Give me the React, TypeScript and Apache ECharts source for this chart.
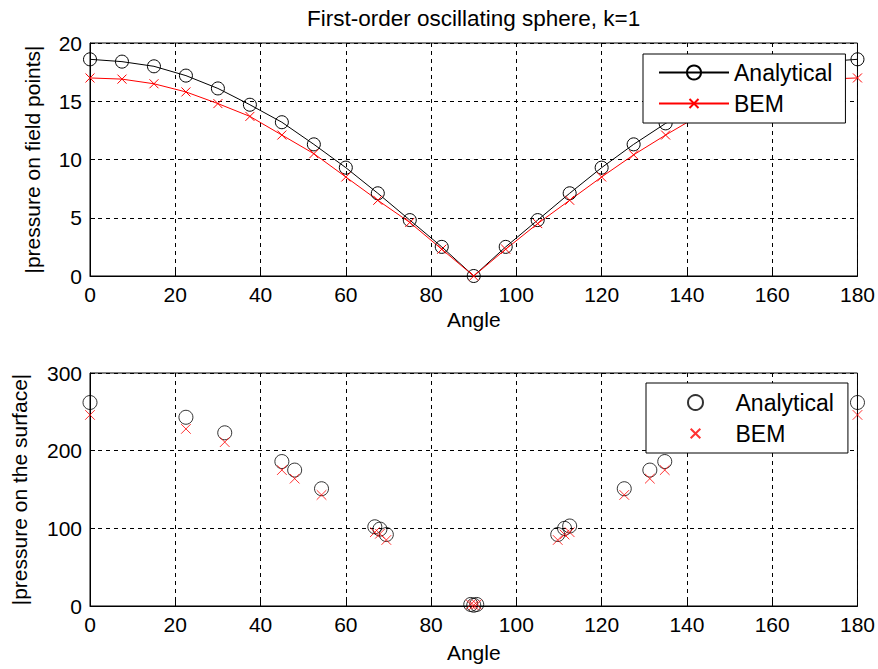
import React, { useEffect, useRef } from "react";
import * as echarts from "echarts";

const titleText = "First-order oscillating sphere, k=1";
const xLabel = "Angle";
const yLabelTop = "|pressure on field points|";
const yLabelBottom = "|pressure on the surface|";
const seriesNames = ["Analytical", "BEM"];

// top panel: field points
const anglesTop = [0, 7.5, 15, 22.5, 30, 37.5, 45, 52.5, 60, 67.5, 75, 82.5, 90, 97.5, 105, 112.5, 120, 127.5, 135, 142.5, 150, 157.5, 165, 172.5, 180];
const analyticalTop = [18.6, 18.4, 18.0, 17.2, 16.1, 14.7, 13.2, 11.3, 9.3, 7.1, 4.8, 2.5, 0.0, 2.5, 4.8, 7.1, 9.3, 11.3, 13.1, 14.7, 16.1, 17.2, 18.0, 18.4, 18.6];
const bemTop = [17.0, 16.9, 16.5, 15.8, 14.8, 13.7, 12.1, 10.5, 8.5, 6.5, 4.6, 2.3, 0.0, 2.3, 4.5, 6.5, 8.5, 10.4, 12.1, 13.7, 14.8, 15.8, 16.5, 16.9, 17.0];

// bottom panel: surface points
const anglesBottom = [0, 22.5, 31.6, 45, 48, 54.3, 66.8, 68, 69.5, 89.3, 90, 90.7, 109.7, 111.3, 112.5, 125.3, 131.3, 134.8, 148.4, 157.5, 180];
const analyticalBottom = [262, 243, 223, 186, 175, 151, 102, 99, 92, 2, 1, 2, 92, 100, 103, 151, 175, 186, 223, 243, 262];
const bemBottom = [246, 228, 211, 175, 164, 143, 95, 93, 85, 2, 1, 2, 85, 92, 95, 143, 164, 175, 211, 228, 246];

const xTicks = { min: 0, max: 180, interval: 20 };
const yTicksTop = { min: 0, max: 20, interval: 5 };
const yTicksBottom = { min: 0, max: 300, interval: 100 };

const crossPath = "path://M0,0L0,0M2.5,2.5L11.5,11.5M11.5,2.5L2.5,11.5M14,14L14,14";
const FONT = "'Liberation Sans', Arial, sans-serif";

function axisX(gridIndex: number, nameGap: number) {
  return {
    type: "value",
    gridIndex,
    ...xTicks,
    name: xLabel,
    nameLocation: "middle",
    nameGap,
    nameTextStyle: { fontSize: 21, color: "#000", fontFamily: FONT },
    axisLine: { show: true, onZero: false, lineStyle: { color: "#000", width: 1 } },
    axisTick: { show: true, inside: true, length: 5, lineStyle: { color: "#000" } },
    axisLabel: { fontSize: 21, color: "#000", margin: 8, fontFamily: FONT },
    splitLine: { show: true, lineStyle: { color: "#000", width: 1, type: [4, 4] } },
  };
}

function axisY(gridIndex: number, ticks: any, name: string, nameGap: number) {
  return {
    type: "value",
    gridIndex,
    ...ticks,
    name,
    nameLocation: "middle",
    nameGap,
    nameTextStyle: { fontSize: 21, color: "#000", fontFamily: FONT },
    axisLine: { show: true, onZero: false, lineStyle: { color: "#000", width: 1 } },
    axisTick: { show: true, inside: true, length: 5, lineStyle: { color: "#000" } },
    axisLabel: { fontSize: 21, color: "#000", margin: 8, fontFamily: FONT },
    splitLine: { show: true, lineStyle: { color: "#000", width: 1, type: [4, 4] } },
  };
}

export default function App() {
  const ref = useRef<HTMLDivElement>(null);
  useEffect(() => {
    document.body.style.margin = "0";
    const chart = echarts.init(ref.current!, null, { renderer: "svg" });
    const circleStyle = { color: "rgba(0,0,0,0)", borderColor: "#000", borderWidth: 1 };
    const crossStyle = { color: "#f00", borderColor: "#f00", borderWidth: 1 };
    const legendCommon = {
      orient: "vertical",
      backgroundColor: "#fff",
      borderColor: "#000",
      borderWidth: 1,
      borderRadius: 0,
      itemGap: 8,
      itemWidth: 70,
      textStyle: { fontSize: 23, color: "#000", fontFamily: FONT },
      formatter: (n: string) => n.trim(),
      selectedMode: false,
    };
    chart.setOption({
      animation: false,
      backgroundColor: "#fff",
      textStyle: { fontFamily: FONT },
      title: {
        text: titleText,
        left: 302,
        top: 2,
        textStyle: { fontSize: 22.5, fontWeight: "normal", color: "#000", fontFamily: FONT },
      },
      grid: [
        { left: 90, top: 43, width: 768, height: 233, show: true, borderColor: "#000", borderWidth: 1, backgroundColor: "#fff" },
        { left: 90, top: 373, width: 768, height: 233, show: true, borderColor: "#000", borderWidth: 1, backgroundColor: "#fff" },
      ],
      xAxis: [axisX(0, 33), axisX(1, 36)],
      yAxis: [axisY(0, yTicksTop, yLabelTop, 47), axisY(1, yTicksBottom, yLabelBottom, 60)],
      legend: [
        { ...legendCommon, left: 643, top: 54, itemHeight: 17.5, padding: [7, 13, 8, 15], data: [seriesNames[0], seriesNames[1]] },
        { ...legendCommon, left: 646, top: 383, itemHeight: 15, padding: [8, 14, 8, 41], data: [seriesNames[0] + " ", seriesNames[1] + " "] },
      ],
      series: [
        {
          name: seriesNames[0],
          type: "line",
          xAxisIndex: 0,
          yAxisIndex: 0,
          data: anglesTop.map((x, i) => [x, analyticalTop[i]]),
          symbol: "circle",
          symbolSize: 13,
          itemStyle: circleStyle,
          lineStyle: { color: "#000", width: 1 },
          clip: false,
          silent: true,
        },
        {
          name: seriesNames[1],
          type: "line",
          xAxisIndex: 0,
          yAxisIndex: 0,
          data: anglesTop.map((x, i) => [x, bemTop[i]]),
          symbol: crossPath,
          symbolSize: 14,
          itemStyle: crossStyle,
          lineStyle: { color: "#f00", width: 1 },
          clip: false,
          silent: true,
        },
        {
          name: seriesNames[0] + " ",
          type: "scatter",
          xAxisIndex: 1,
          yAxisIndex: 1,
          data: anglesBottom.map((x, i) => [x, analyticalBottom[i]]),
          symbol: "circle",
          symbolSize: 14,
          itemStyle: circleStyle,
          clip: false,
          silent: true,
        },
        {
          name: seriesNames[1] + " ",
          type: "scatter",
          xAxisIndex: 1,
          yAxisIndex: 1,
          data: anglesBottom.map((x, i) => [x, bemBottom[i]]),
          symbol: crossPath,
          symbolSize: 15,
          itemStyle: crossStyle,
          clip: false,
          silent: true,
        },
      ],
    });
    return () => chart.dispose();
  }, []);
  return <div ref={ref} style={{ width: 878, height: 669 }} />;
}
